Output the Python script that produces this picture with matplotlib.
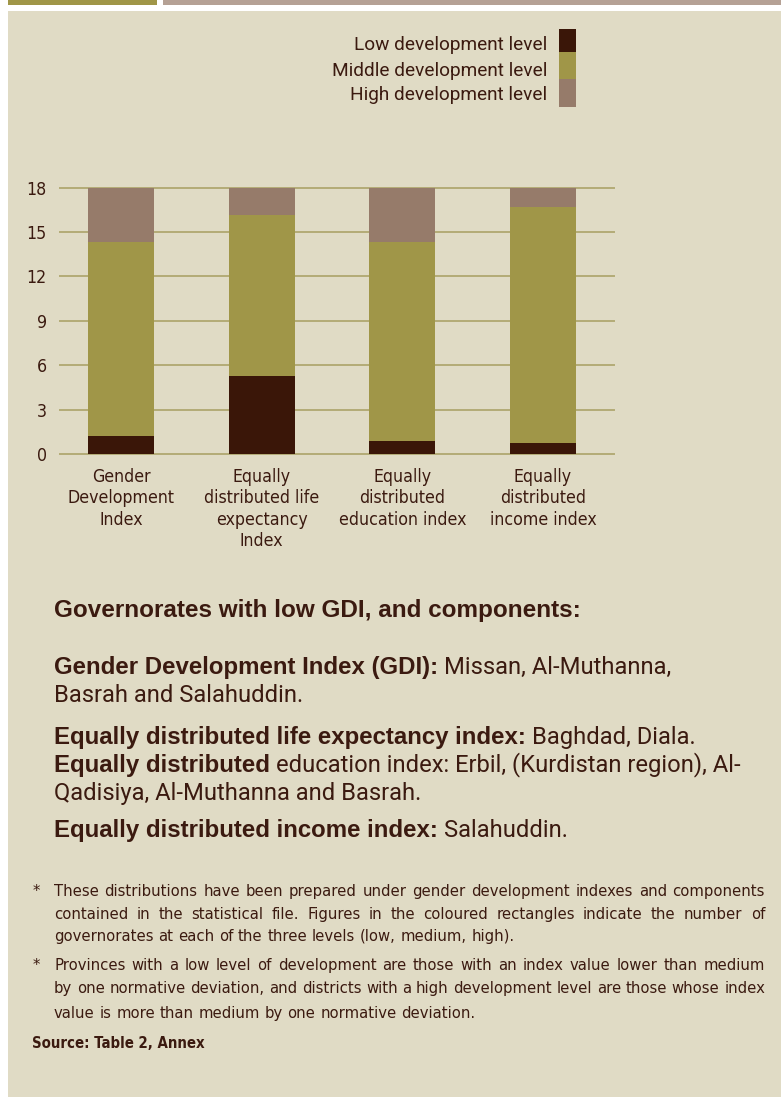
import numpy as np
import matplotlib
matplotlib.use('Agg')
import matplotlib.pyplot as plt
from matplotlib import font_manager as fm
from matplotlib.patches import Rectangle

# data (number of governorates per level)
categories = ['Gender\nDevelopment\nIndex',
              'Equally\ndistributed life\nexpectancy\nIndex',
              'Equally\ndistributed\neducation index',
              'Equally\ndistributed\nincome index']
low = [1.25, 5.25, 0.85, 0.75]
middle = [13.05, 10.9, 13.45, 15.95]
high = [3.7, 1.85, 3.7, 1.3]
series_names = ['Low development level', 'Middle development level', 'High development level']
yticks = [0, 3, 6, 9, 12, 15, 18]

BG = '#e0dbc5'
C_LOW, C_MID, C_HIGH = '#3a1608', '#a09648', '#967b6a'
INK = '#3b1a10'
GRID = '#b3ab76'

W, H = 781, 1097


def narrow_font(weight='normal'):
    # look for a condensed sans, otherwise fall back to Liberation Sans
    for fam, kw in [('Liberation Sans Narrow', {}), ('DejaVu Sans', {'stretch': 'condensed'}),
                    ('Roboto Condensed', {})]:
        try:
            path = fm.findfont(fm.FontProperties(family=fam, weight=weight, **kw), fallback_to_default=False)
        except ValueError:
            continue
        if 'Narrow' in path or 'Condensed' in path:
            return dict(family=fam, weight=weight, **kw)
    return dict(family='Liberation Sans', weight=weight)


NARROW = narrow_font()
NARROW_B = narrow_font('bold')
BOLD = dict(family='Liberation Sans', weight='bold')
LIGHT = dict(family='Roboto', weight='normal')

fig = plt.figure(figsize=(W / 100, H / 100), dpi=100)
fig.patch.set_facecolor('white')
renderer = fig.canvas.get_renderer()


def fx(x):
    return x / W


def fy(y):
    return 1 - y / H


def box(x0, y0, x1, y1, color):
    fig.add_artist(Rectangle((fx(x0), fy(y1)), (x1 - x0) / W, (y1 - y0) / H,
                             transform=fig.transFigure, color=color, zorder=0, lw=0))


def width_of(s, size=10, **kw):
    t = fig.text(0, 0, s, fontsize=size, **kw)
    w = t.get_window_extent(renderer).width
    t.remove()
    return w


def fit(s, target, **kw):
    return 10 * target / width_of(s, **kw)


# footnote text
fn1 = ['These distributions have been prepared under gender development indexes and components',
       'contained in the statistical file. Figures in the coloured rectangles indicate the number of',
       'governorates at each of the three levels (low, medium, high).']
fn2 = ['Provinces with a low level of development are those with an index value lower than medium',
       'by one normative deviation, and districts with a high development level are those whose index',
       'value is more than medium by one normative deviation.']

# page background and top bands
box(8, 11, W, H, BG)
box(8, 0, 157, 5, C_MID)
box(163, 0, W, 5, '#b5a195')

# font sizes matched to the widths in the reference
leg_size = fit('Low development level', 193, **LIGHT)
cat_size = fit('Development', 97, **NARROW) * 1.1
head_size = fit('Governorates with low GDI, and components:', 526, **BOLD)
bold_size = fit('Gender Development Index (GDI):', 385, **BOLD)
light_size = fit('Basrah and Salahuddin.', 248, **LIGHT)
fn_size = min(fit(ln, 708, **NARROW) for ln in fn1[:2] + fn2[:2])
src_size = fit('Source: Table 2, Annex', 172, **NARROW_B)

# ---- chart ----
ax = fig.add_axes([fx(60), fy(454), (614 - 60) / W, (454 - 187.7) / H])
ax.set_facecolor('none')
x = np.arange(len(categories))
bw = 0.47
ax.bar(x, low, bw, color=C_LOW, zorder=2)
ax.bar(x, middle, bw, bottom=low, color=C_MID, zorder=2)
ax.bar(x, high, bw, bottom=np.add(low, middle), color=C_HIGH, zorder=2)
ax.set_xlim(-0.434, 3.505)
ax.set_ylim(0, 18)
ax.set_yticks(yticks)
ax.yaxis.grid(True, color=GRID, lw=1.4, zorder=0)
for gl in ax.get_ygridlines():
    gl.set_clip_on(False)
ax.set_axisbelow(True)
for s in ax.spines.values():
    s.set_visible(False)
ax.tick_params(axis='both', length=0, colors=INK)
ax.tick_params(axis='y', pad=9.5)
ax.tick_params(axis='x', pad=10)
ax.set_xticks(x, categories)
for lab in ax.get_yticklabels():
    lab.set_fontproperties(fm.FontProperties(size=cat_size, **NARROW))
for lab in ax.get_xticklabels():
    lab.set_fontproperties(fm.FontProperties(size=cat_size, **NARROW))
    lab.set_linespacing(1.25)

# ---- legend (text right-aligned, swatches stacked) ----
leg_y = [43, 69, 93]
sw_edges = [29, 52, 79, 107]
for name, yc, c, y0, y1 in zip(series_names, leg_y, [C_LOW, C_MID, C_HIGH], sw_edges[:-1], sw_edges[1:]):
    fig.text(fx(547), fy(yc + 0.5 * leg_size), name, ha='right', va='baseline',
             fontsize=leg_size, color=INK, **LIGHT)
    box(559, y0, 576, y1, c)

# ---- text block ----
space = width_of('n n', light_size, **LIGHT) - width_of('nn', light_size, **LIGHT)


def rich(x0, yc, parts):
    xx = x0
    for s, kw, size in parts:
        t = fig.text(fx(xx), fy(yc + 0.5 * size), s, va='baseline', fontsize=size, color=INK, **kw)
        xx += t.get_window_extent(renderer).width + space


rich(54, 608, [('Governorates with low GDI, and components:', BOLD, head_size)])
rich(54, 665, [('Gender Development Index (GDI):', BOLD, bold_size),
               ('Missan, Al-Muthanna,', LIGHT, light_size)])
rich(54, 693, [('Basrah and Salahuddin.', LIGHT, light_size)])
rich(54, 735, [('Equally distributed life expectancy index:', BOLD, bold_size),
               ('Baghdad, Diala.', LIGHT, light_size)])
rich(54, 763, [('Equally distributed', BOLD, bold_size),
               ('education index: Erbil, (Kurdistan region), Al-', LIGHT, light_size)])
rich(54, 791, [('Qadisiya, Al-Muthanna and Basrah.', LIGHT, light_size)])
rich(54, 828, [('Equally distributed income index:', BOLD, bold_size),
               ('Salahuddin.', LIGHT, light_size)])


# ---- footnotes (justified) ----
def justified(yc, line, last=False, x0=54, x1=765):
    words = line.split()
    base = fy(yc + 0.5 * fn_size)
    ts = [fig.text(0, base, w, va='baseline', fontsize=fn_size, color=INK, **NARROW) for w in words]
    ws = [t.get_window_extent(renderer).width for t in ts]
    if last:
        gap = width_of('n n', fn_size, **NARROW) - width_of('nn', fn_size, **NARROW)
    else:
        gap = (x1 - x0 - sum(ws)) / (len(words) - 1)
    xx = x0
    for t, w in zip(ts, ws):
        t.set_x(fx(xx))
        xx += w + gap


for lines, ys in [(fn1, [890, 913, 935]), (fn2, [964, 987, 1012])]:
    fig.text(fx(33), fy(ys[0] + 0.5 * fn_size), '*', va='baseline', fontsize=fn_size, color=INK, **NARROW)
    for i, (ln, yc) in enumerate(zip(lines, ys)):
        justified(yc, ln, last=(i == len(lines) - 1))

fig.text(fx(32), fy(1043 + 0.5 * src_size), 'Source: Table 2, Annex', va='baseline',
         fontsize=src_size, color=INK, **NARROW_B)

fig.savefig('out.png', dpi=100, facecolor=fig.get_facecolor())
